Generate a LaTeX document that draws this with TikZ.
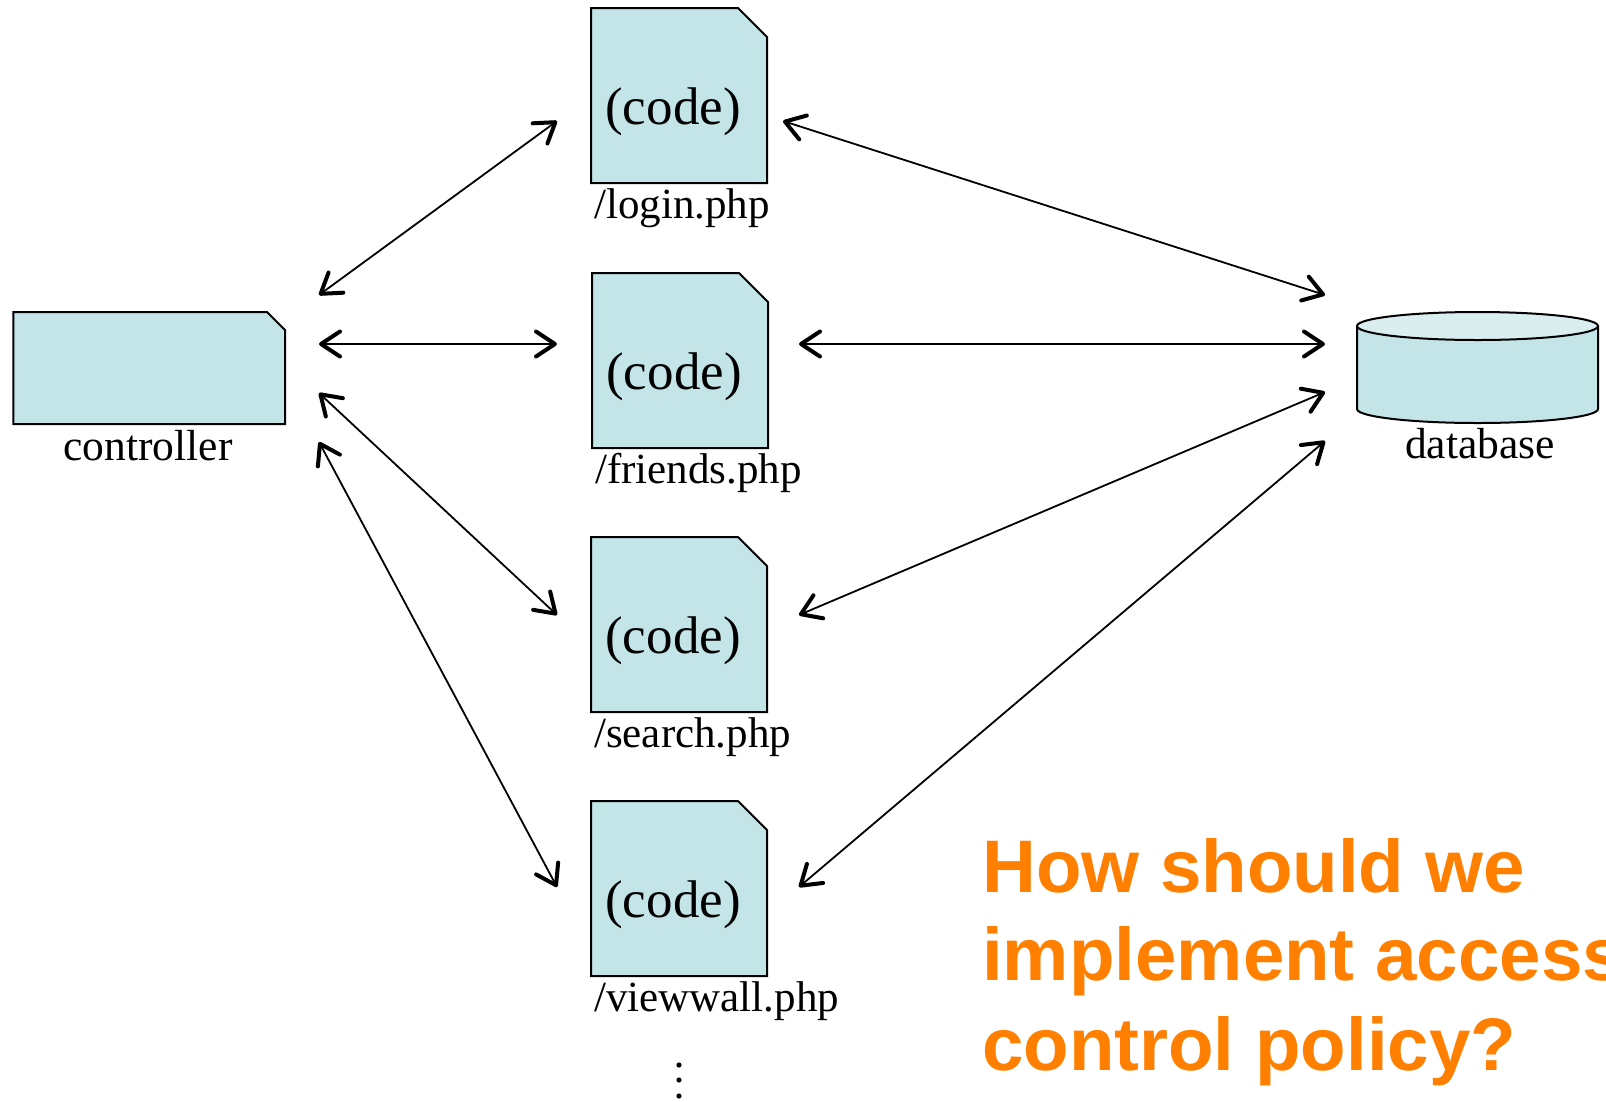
\documentclass[tikz,border=0pt]{standalone}
\usepackage{fontspec}
\setmainfont{Liberation Serif}
\newfontfamily\headfont{Liberation Sans}
\usetikzlibrary{arrows.meta}
\definecolor{boxfill}{HTML}{C3E5E8}
\definecolor{boxtop}{HTML}{DAEEF0}
\definecolor{qorange}{HTML}{FF8000}

% a php file: chamfered sheet with "(code)" and its path underneath
% #1 name, #2 left x, #3 top y, #4 file name
\newcommand\phpfile[4]{%
  \path[sheet] (#2,#3) -- ++(147,0) -- ++(29,29) -- ++(0,146) -- ++(-176,0) -- cycle;
  \node[codetext] (#1) at ({#2+82},{#3+104}) {(code)};
  \node[filelabel] (#1-label) at ({#2+3},{#3+210}) {#4};
}

\begin{document}
\begin{tikzpicture}[x=1pt,y=-1pt,
  sheet/.style={draw=black, line width=2pt, fill=boxfill, line join=miter},
  codetext/.style={inner sep=0pt, font=\fontsize{53}{60}\selectfont},
  filelabel/.style={inner sep=0pt, anchor=base west, font=\fontsize{43}{48}\selectfont},
  boxlabel/.style={inner sep=0pt, anchor=base, font=\fontsize{43.5}{48}\selectfont},
  question/.style={inner sep=0pt, anchor=base west, text=qorange,
    font=\headfont\bfseries\fontsize{74.5}{89}\selectfont},
  barb/.tip={Straight Barb[length=19pt,width=25pt,line width=4pt,round]},
  link/.style={line width=1.8pt, barb-barb},
]
\useasboundingbox (0,0) rectangle (1606,1101);
\clip (0,0) rectangle (1606,1101);

% controller
\path[sheet] (13.4,312) -- (267,312) -- (285,330) -- (285,424) -- (13.4,424) -- cycle;
\node[boxlabel] (controller) at (148,460) {controller};

% the scripts
\phpfile{login}{591}{8}{/login.php}
\phpfile{friends}{592}{273}{/friends.php}
\phpfile{search}{591}{537}{/search.php}
\phpfile{viewwall}{591}{801}{/viewwall.php}

% more scripts follow
\foreach \yy in {1065,1080,1096}
  \fill (679,\yy) circle[radius=2.6pt];

% database cylinder
\fill[boxfill] (1357,326) -- (1357,409)
  arc[start angle=180,end angle=360,x radius=120.5pt,y radius=14pt] -- (1598,326) -- cycle;
\draw[line width=2pt] (1357,326) -- (1357,409)
  arc[start angle=180,end angle=360,x radius=120.5pt,y radius=14pt] -- (1598,326);
\draw[line width=2pt, fill=boxtop] (1477.5,326) ellipse[x radius=120.5pt,y radius=14pt];
\node[boxlabel] (database) at (1480,458) {database};

% connector ends
\coordinate (ctl-a) at (319,295);
\coordinate (ctl-b) at (319,344);
\coordinate (ctl-c) at (319,393);
\coordinate (ctl-d) at (319,442);
\coordinate (login-w) at (557,121);
\coordinate (friends-w) at (557,344);
\coordinate (search-w) at (557,615);
\coordinate (viewwall-w) at (557,887);
\coordinate (login-e) at (783,121);
\coordinate (friends-e) at (799,344);
\coordinate (search-e) at (799,615);
\coordinate (viewwall-e) at (799,887);
\coordinate (db-a) at (1325,295);
\coordinate (db-b) at (1325,344);
\coordinate (db-c) at (1325,392);
\coordinate (db-d) at (1325,441);

\draw[link] (ctl-a) -- (login-w);
\draw[link] (ctl-b) -- (friends-w);
\draw[link] (ctl-c) -- (search-w);
\draw[link] (ctl-d) -- (viewwall-w);
\draw[link] (login-e) -- (db-a);
\draw[link] (friends-e) -- (db-b);
\draw[link] (search-e) -- (db-c);
\draw[link] (viewwall-e) -- (db-d);

% question
\node[question] (q1) at (982,892) {How should we};
\node[question] (q2) at (982,980) {implement access};
\node[question] (q3) at (982,1070) {control policy?};
\end{tikzpicture}
\end{document}
